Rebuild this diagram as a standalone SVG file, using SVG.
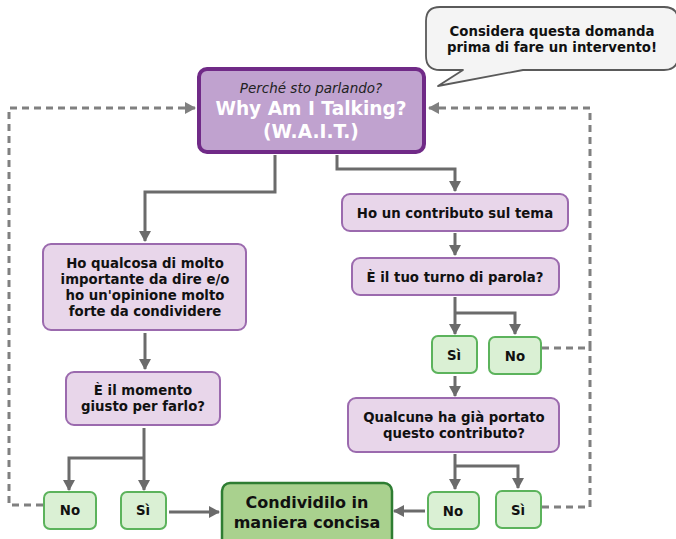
<svg xmlns="http://www.w3.org/2000/svg" width="676" height="539" viewBox="0 0 676 539">
<defs>
<marker id="ah" markerUnits="userSpaceOnUse" markerWidth="12" markerHeight="12" refX="10" refY="6" orient="auto">
<path d="M0,0 L11,6 L0,12 Z" fill="#6b6b6b"/>
</marker>
<marker id="ahd" markerUnits="userSpaceOnUse" markerWidth="12" markerHeight="12" refX="10" refY="6" orient="auto">
<path d="M0,0 L11,6 L0,12 Z" fill="#808080"/>
</marker>
<style>
text{font-family:"DejaVu Sans","Verdana",sans-serif;font-weight:bold;fill:#111;text-anchor:middle}
.q{fill:#e8d6ea;stroke:#9b6aae;stroke-width:2}
.a{fill:#daf0d4;stroke:#5cb35c;stroke-width:2}
.c{fill:none;stroke:#6b6b6b;stroke-width:3;stroke-linejoin:miter}
.d{fill:none;stroke:#808080;stroke-width:3;stroke-dasharray:7 5}
.t13{font-size:13.3px}
</style>
</defs>
<rect width="676" height="539" fill="#ffffff"/>

<g id="connectors">
<path class="c" d="M275,155 V192 H145 V241" marker-end="url(#ah)"/>
<path class="c" d="M337,155 V169 H455 V191" marker-end="url(#ah)"/>
<path class="c" d="M455,233 V255" marker-end="url(#ah)"/>
<path class="c" d="M455,297 V334" marker-end="url(#ah)"/>
<path class="c" d="M455,313 H515 V334" marker-end="url(#ah)"/>
<path class="c" d="M455,376 V396" marker-end="url(#ah)"/>
<path class="c" d="M455,454 V489" marker-end="url(#ah)"/>
<path class="c" d="M455,466 H518 V488" marker-end="url(#ah)"/>
<path class="c" d="M425,511 H394" marker-end="url(#ah)"/>
<path class="c" d="M145,333 V369" marker-end="url(#ah)"/>
<path class="c" d="M144,428 V490" marker-end="url(#ah)"/>
<path class="c" d="M144,458 H69 V490" marker-end="url(#ah)"/>
<path class="c" d="M169,512 H219" marker-end="url(#ah)"/>
<path class="d" d="M43,505 H9 V108 H195" marker-end="url(#ahd)"/>
<path class="d" d="M542,348 H590 V108 H429" marker-end="url(#ahd)"/>
<path class="d" d="M542,507 H590 V348"/>
</g>

<g id="bubble">
<path d="M440,7 H664 Q678,7 678,21 V56 Q678,70 664,70 H523 L438,86 L463,70 H440 Q426,70 426,56 V21 Q426,7 440,7 Z" fill="#f4f4f4" stroke="#5a5a5a" stroke-width="1.8" stroke-linejoin="round"/>
<text class="t13" x="552" y="36">Considera questa domanda</text>
<text class="t13" x="552" y="52">prima di fare un intervento!</text>
</g>

<g id="wait">
<rect x="199" y="69" width="225" height="83" rx="8" fill="#c0a2cf" stroke="#702a87" stroke-width="4"/>
<text x="311" y="93" style="font-size:13.5px;font-weight:normal;font-style:italic;fill:#222">Perché sto parlando?</text>
<text x="311" y="115" style="font-size:18.6px;fill:#ffffff">Why Am I Talking?</text>
<text x="311" y="138" style="font-size:18.6px;fill:#ffffff">(W.A.I.T.)</text>
</g>

<g id="n-importante">
<rect class="q" x="43" y="244" width="203" height="86" rx="8"/>
<text class="t13" x="145" y="268">Ho qualcosa di molto</text>
<text class="t13" x="145" y="284">importante da dire e/o</text>
<text class="t13" x="145" y="300">ho un'opinione molto</text>
<text class="t13" x="145" y="316">forte da condividere</text>
</g>

<g id="n-momento">
<rect class="q" x="66" y="372" width="154" height="53" rx="8"/>
<text class="t13" x="143" y="395">È il momento</text>
<text class="t13" x="143" y="411">giusto per farlo?</text>
</g>

<g id="n-no-left">
<rect class="a" x="44" y="492" width="52" height="37" rx="6"/>
<text class="t13" x="70" y="515">No</text>
</g>

<g id="n-si-left">
<rect class="a" x="121" y="492" width="45" height="37" rx="6"/>
<text class="t13" x="143" y="515">Sì</text>
</g>

<g id="n-condividi">
<rect x="222" y="483" width="170" height="66" rx="8" fill="#a9d18e" stroke="#2e7d32" stroke-width="2.5"/>
<text x="307" y="508" style="font-size:16px">Condividilo in</text>
<text x="307" y="528" style="font-size:16px">maniera concisa</text>
</g>

<g id="n-contributo">
<rect class="q" x="342" y="194" width="226" height="37" rx="8"/>
<text class="t13" x="455" y="218">Ho un contributo sul tema</text>
</g>

<g id="n-turno">
<rect class="q" x="352" y="258" width="207" height="37" rx="8"/>
<text class="t13" x="455" y="282">È il tuo turno di parola?</text>
</g>

<g id="n-si-turno">
<rect class="a" x="432" y="336" width="45" height="37" rx="6"/>
<text class="t13" x="454" y="360">Sì</text>
</g>

<g id="n-no-turno">
<rect class="a" x="489" y="337" width="52" height="37" rx="6"/>
<text class="t13" x="515" y="361">No</text>
</g>

<g id="n-qualcuno">
<rect class="q" x="348" y="398" width="211" height="54" rx="8"/>
<text class="t13" x="454" y="422">Qualcunə ha già portato</text>
<text class="t13" x="454" y="438">questo contributo?</text>
</g>

<g id="n-no-right">
<rect class="a" x="428" y="492" width="51" height="37" rx="6"/>
<text class="t13" x="453" y="516">No</text>
</g>

<g id="n-si-right">
<rect class="a" x="496" y="491" width="45" height="37" rx="6"/>
<text class="t13" x="518" y="515">Sì</text>
</g>
</svg>
